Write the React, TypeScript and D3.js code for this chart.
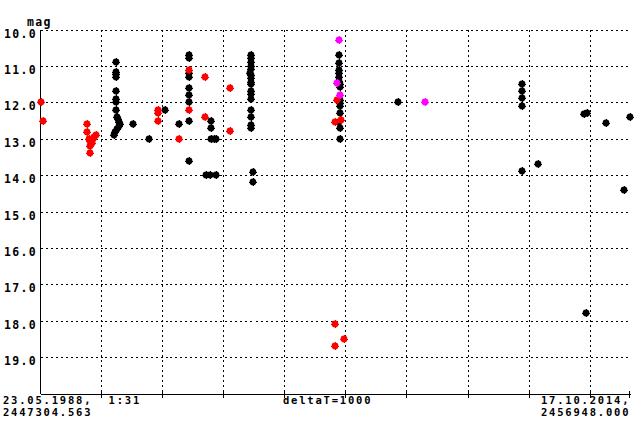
import * as React from 'react'
import * as d3 from 'd3'

// observations: [JD, mag]
const blackObs: [number, number][] = [
  [2448544, 10.88], [2448544, 11.15], [2448544, 11.2], [2448544, 11.3], [2448544, 11.68],
  [2448544, 11.9], [2448544, 11.97], [2448544, 12.2], [2448561, 12.4], [2448577, 12.45],
  [2448593, 12.52], [2448610, 12.58], [2448593, 12.65], [2448561, 12.73], [2448528, 12.8],
  [2448512, 12.88],
  [2448811, 12.59], [2449073, 13.0], [2449335, 12.2], [2449564, 12.58],
  [2449728, 10.69], [2449728, 10.78], [2449728, 11.19], [2449728, 11.28], [2449728, 11.6],
  [2449728, 11.79], [2449728, 11.99], [2449744, 12.5], [2449728, 13.6],
  [2450100, 12.5], [2450100, 12.7], [2450100, 13.0], [2450149, 13.0], [2450182, 13.0],
  [2450018, 13.99], [2450075, 13.99], [2450182, 13.99],
  [2450759, 10.69], [2450759, 10.77], [2450759, 10.88], [2450759, 10.99], [2450759, 11.07],
  [2450727, 11.18], [2450759, 11.24], [2450759, 11.32], [2450759, 11.43], [2450759, 11.48],
  [2450759, 11.68], [2450759, 11.76], [2450759, 11.9], [2450759, 12.2], [2450759, 12.39],
  [2450759, 12.61], [2450759, 12.69], [2450776, 13.9], [2450776, 14.18],
  [2452190, 10.7], [2452190, 10.91], [2452195, 11.1], [2452195, 11.19], [2452195, 11.28],
  [2452195, 11.39], [2452200, 11.48], [2452200, 11.56], [2452200, 11.92], [2452200, 12.0],
  [2452200, 12.09], [2452200, 12.29], [2452195, 12.52], [2452200, 12.7], [2452200, 13.0],
  [2453150, 11.99],
  [2455196, 11.47], [2455196, 11.68], [2455196, 11.88], [2455196, 12.1], [2455196, 13.87],
  [2455458, 13.69], [2456206, 12.32], [2456260, 12.29], [2456571, 12.56], [2456948, 12.4],
  [2456850, 14.4], [2456239, 17.78],
]

const redObs: [number, number][] = [
  [2447305, 11.98], [2447338, 12.5],
  [2448074, 12.59], [2448074, 12.79], [2448091, 13.0], [2448107, 13.19], [2448107, 13.39],
  [2448119, 13.05], [2448147, 13.1], [2448173, 12.93], [2448217, 12.88], [2448160, 13.0],
  [2449221, 12.2], [2449221, 12.29], [2449221, 12.5],
  [2449564, 13.0], [2449728, 11.1], [2449744, 12.2],
  [2449990, 11.3], [2449990, 12.4], [2450399, 11.6], [2450399, 12.77],
  [2452154, 11.93], [2452130, 12.52], [2452223, 12.48],
  [2452130, 18.09], [2452130, 18.69], [2452277, 18.5],
]

const magentaObs: [number, number][] = [
  [2452184, 10.27], [2452154, 11.46], [2452200, 11.79], [2453592, 11.99],
]

const magTicks = [10, 11, 12, 13, 14, 15, 16, 17, 18, 19]
const jdStart = 2447304.563
const jdEnd = 2456948.0
const deltaT = 1000
const startLabel = ['23.05.1988,  1:31', '2447304.563']
const endLabel = ['17.10.2014,', '2456948.000']
const midLabel = 'deltaT=1000'

const W = 640
const H = 424
const left = 40.5
const right = 629.5
const top = 30
const bottom = 394

const font = {
  fontFamily: '"DejaVu Sans Mono", monospace',
  fontWeight: 'bold' as const,
  fontSize: 11.5,
  letterSpacing: 1.3,
}
const smallFont = { fontSize: 10.5, letterSpacing: 1.8 }

export default function App() {
  const x = d3.scaleLinear().domain([jdStart, jdEnd]).range([left, right])
  const y = d3.scaleLinear().domain([10, 20]).range([top, bottom])

  const gridJD = d3.range(1, 10).map(k => jdStart + k * deltaT)

  // round blob with small cross arms
  const marks = (obs: [number, number][], color: string) =>
    obs.map((d, i) => {
      const cx = Math.round(x(d[0]))
      const cy = Math.round(y(d[1]))
      return (
        <g key={color + i} transform={`translate(${cx},${cy})`} fill={color}>
          <circle r={3.4} shapeRendering="auto" />
          <rect x={-0.5} y={-4} width={1} height={8} />
          <rect x={-4} y={-0.5} width={8} height={1} />
        </g>
      )
    })

  return (
    <svg
      width={W}
      height={H}
      style={{ position: 'absolute', left: 0, top: 0, background: '#fff' }}
      shapeRendering="crispEdges"
    >
      <rect width={W} height={H} fill="#fff" />
      {/* horizontal grid */}
      {magTicks.map(m => (
        <line
          key={'h' + m}
          x1={left}
          x2={right + 1}
          y1={Math.floor(y(m)) + 0.5}
          y2={Math.floor(y(m)) + 0.5}
          stroke="#000"
          strokeDasharray="2 3"
        />
      ))}
      {/* vertical grid */}
      {gridJD.map(j => (
        <line
          key={'v' + j}
          x1={Math.floor(x(j)) + 0.5}
          x2={Math.floor(x(j)) + 0.5}
          y1={top}
          y2={bottom}
          stroke="#000"
          strokeDasharray="2 3"
        />
      ))}
      {/* ticks on the time axis */}
      {gridJD.concat([jdEnd]).map(j => (
        <line
          key={'t' + j}
          x1={Math.floor(x(j)) + 0.5}
          x2={Math.floor(x(j)) + 0.5}
          y1={bottom - 3}
          y2={bottom + 4}
          stroke="#000"
        />
      ))}
      {/* axes */}
      <line x1={Math.floor(left) + 0.5} x2={Math.floor(left) + 0.5} y1={top} y2={bottom} stroke="#000" />
      <line x1={left} x2={right + 1} y1={bottom + 0.5} y2={bottom + 0.5} stroke="#000" />

      {/* labels */}
      <g style={font}>
        <text x={27} y={26}>mag</text>
        {magTicks.map(m => (
          <text key={'l' + m} x={4} y={Math.floor(y(m)) + 8}>
            {d3.format('.1f')(m)}
          </text>
        ))}
        <g style={smallFont}>
          <text x={3} y={403.5} style={{ whiteSpace: 'pre' }}>{startLabel[0]}</text>
          <text x={3} y={416}>{startLabel[1]}</text>
          <text x={283} y={403.5}>{midLabel}</text>
          <text x={541} y={403.5}>{endLabel[0]}</text>
          <text x={541} y={416}>{endLabel[1]}</text>
        </g>
      </g>

      {marks(blackObs, '#000')}
      {marks(redObs, '#ff0000')}
      {marks(magentaObs, '#ff00ff')}
    </svg>
  )
}
